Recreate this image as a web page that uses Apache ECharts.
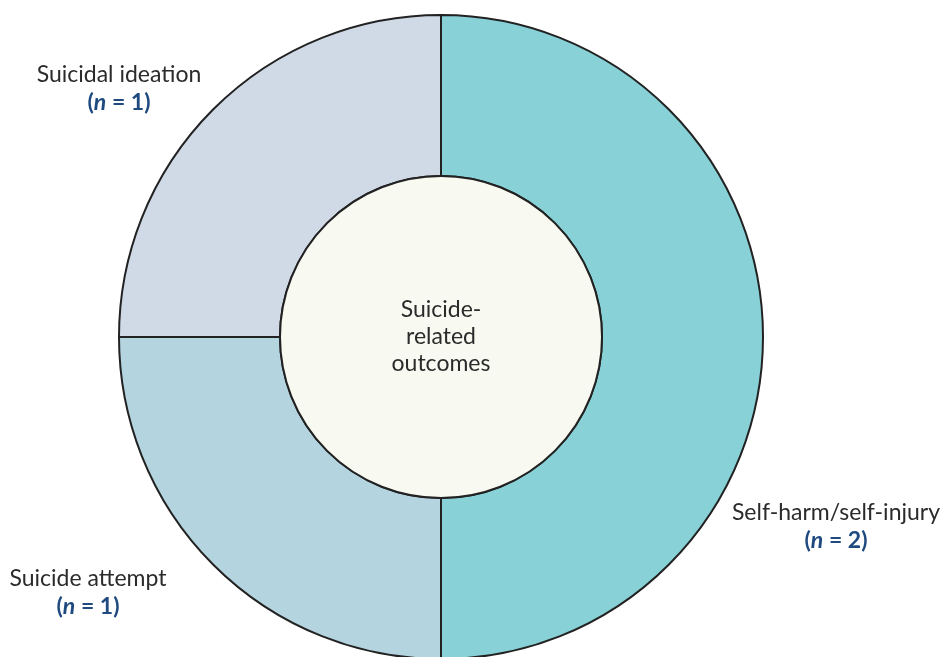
<!DOCTYPE html>
<html>
<head>
<meta charset="utf-8">
<script src="https://cdn.jsdelivr.net/npm/echarts@6/dist/echarts.min.js"></script>
<style>
  html, body { margin: 0; padding: 0; background: #ffffff; }
  #chart { width: 943px; height: 657px; }
</style>
</head>
<body>
<div id="chart"></div>
<script>
// Outcome categories and counts (clockwise from the top)
const categories = ['Self-harm/self-injury', 'Suicide attempt', 'Suicidal ideation'];
const counts = [2, 1, 1];
const sliceColors = ['#87d1d7', '#b4d4e0', '#d0dae6'];
const centerLabel = 'Suicide-\nrelated\noutcomes';

// Where each outer label sits (centre of the text block)
const labelSpots = [
  { x: 836, y: 527 },
  { x: 88, y: 593 },
  { x: 119, y: 89 }
];

const FS = 23;
const chart = echarts.init(document.getElementById('chart'));

chart.setOption({
  animation: false,
  series: [
    {
      type: 'pie',
      center: [441, 337],
      radius: [161, 322],
      startAngle: 90,
      clockwise: true,
      silent: true,
      itemStyle: { borderColor: '#222222', borderWidth: 2 },
      label: {
        show: true,
        position: 'outside',
        overflow: 'none',
        width: 400,
        formatter: p => '{t|' + p.name + '}\n{n|(}{ni|n}{n| = ' + p.value + ')}',
        align: 'center',
        rich: {
          t: { fontFamily: 'Lato', fontSize: FS, color: '#2b2b2b', lineHeight: 28, align: 'center' },
          n: { fontFamily: 'Lato', fontSize: FS, fontWeight: 'bold', color: '#1f4a80', lineHeight: 28 },
          ni: { fontFamily: 'Lato', fontSize: FS, fontWeight: 'bold', fontStyle: 'italic', color: '#1f4a80', lineHeight: 28 }
        }
      },
      labelLine: { show: false },
      labelLayout: params => ({
        x: labelSpots[params.dataIndex].x,
        y: labelSpots[params.dataIndex].y,
        align: 'center',
        verticalAlign: 'middle'
      }),
      data: categories.map((c, i) => ({
        name: c,
        value: counts[i],
        itemStyle: { color: sliceColors[i] }
      }))
    },
    {
      type: 'pie',
      center: [441, 337],
      radius: [0, 161],
      silent: true,
      itemStyle: { color: '#f8f9f1', borderColor: '#222222', borderWidth: 2 },
      label: {
        show: true,
        position: 'center',
        formatter: centerLabel,
        fontFamily: 'Lato',
        fontSize: FS,
        lineHeight: 27,
        color: '#2b2b2b'
      },
      labelLine: { show: false },
      data: [{ name: 'centre', value: 1 }]
    }
  ]
});
</script>
</body>
</html>
